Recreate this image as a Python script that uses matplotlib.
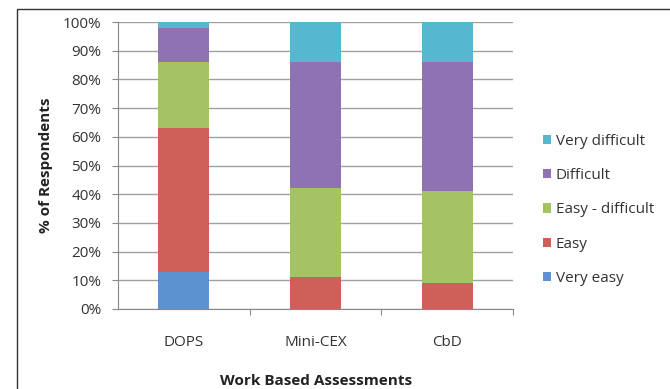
import numpy as np
import matplotlib.pyplot as plt
from matplotlib.patches import Rectangle
from matplotlib.ticker import PercentFormatter

plt.rcParams['font.family'] = ['Open Sans', 'DejaVu Sans']

# Survey responses, % of respondents per assessment type
assessments = ['DOPS', 'Mini-CEX', 'CbD']
very_easy = [13, 0, 0]
easy = [50, 11, 9]
easy_difficult = [23, 31, 32]
difficult = [12, 44, 45]
very_difficult = [2, 14, 14]

series = [
    ('Very easy', very_easy, '#5B92CF'),
    ('Easy', easy, '#CF5F59'),
    ('Easy - difficult', easy_difficult, '#A4C463'),
    ('Difficult', difficult, '#8E72B1'),
    ('Very difficult', very_difficult, '#55B8D0'),
]

fig = plt.figure(figsize=(6.7, 3.89), dpi=100)
ax = fig.add_axes([0.176, 0.2057, 0.590, 0.7377])

# outer chart frame
fig.patches.append(Rectangle((17 / 670, -0.05), 1.1, 1 - 9 / 389 + 0.05,
                             transform=fig.transFigure, fill=False,
                             edgecolor='#333333', linewidth=1.0))

x = np.arange(len(assessments))
bottom = np.zeros(len(assessments))
handles = []
for name, vals, color in series:
    b = ax.bar(x, vals, width=0.39, bottom=bottom, color=color, label=name, zorder=3)
    handles.append(b)
    bottom += np.array(vals)

ax.set_xlim(-0.5, 2.5)
ax.set_ylim(0, 100)
ax.set_yticks(np.arange(0, 101, 10))
ax.yaxis.set_major_formatter(PercentFormatter(decimals=0))
ax.grid(axis='y', color='#A0A0A0', linewidth=1.0, zorder=0)

ax.set_xticks([0.5, 1.5, 2.5])
ax.set_xticklabels([])
ax.set_xticks(x, minor=True)
ax.set_xticklabels(assessments, minor=True)
ax.tick_params(axis='x', which='major', length=4, color='#888888', direction='out')
ax.tick_params(axis='x', which='minor', length=0, pad=19, labelsize=11, labelcolor='#333333')
ax.tick_params(axis='y', length=4, color='#888888', labelsize=11, labelcolor='#333333', pad=8)

for side in ['top', 'right']:
    ax.spines[side].set_visible(False)
ax.spines['left'].set_color('#888888')
ax.spines['bottom'].set_color('#888888')

ax.set_ylabel('% of Respondents', fontsize=11, fontweight='bold', labelpad=7, color='#222222')
ax.set_xlabel('Work Based Assessments', fontsize=11, fontweight='bold', labelpad=17, color='#222222')

leg = ax.legend(handles[::-1], [s[0] for s in series][::-1],
                loc='center left', bbox_to_anchor=(1.04, 0.345),
                frameon=False, fontsize=11, handlelength=0.55, handleheight=0.55,
                handletextpad=0.3, labelspacing=1.27, labelcolor='#333333')

fig.savefig('out.png', dpi=100)
